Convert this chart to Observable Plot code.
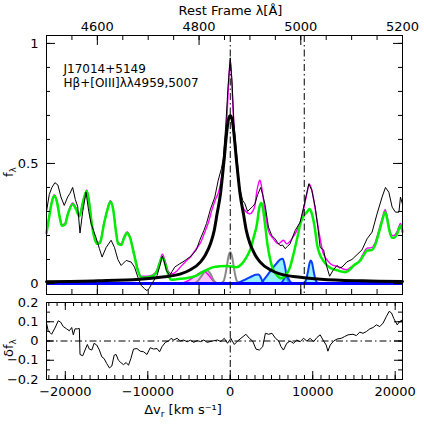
<!DOCTYPE html>
<html><head><meta charset="utf-8">
<script src="https://cdn.jsdelivr.net/npm/d3@7"></script>
<script src="https://cdn.jsdelivr.net/npm/@observablehq/plot@0.6"></script>
<style>
body{margin:0;background:#fff}
#chart{position:relative;width:424px;height:424px;background:#fff}
#chart svg{position:absolute;left:0;display:block}
</style></head><body><div id="chart"></div>
<script>
// ---------- constants / tick values ----------
const C = 299792.458, L0 = 4861.33;
const lambdaTicks = [4500,4550,4600,4650,4700,4750,4800,4850,4900,4950,5000,5050,5100,5150,5200];
const lambdaLabels = [4600,4800,5000,5200];
const lineLambdas = [4861.33, 5006.84];
const lambdaRange = [4500, 5200];
const fTicks = [0,0.1,0.2,0.3,0.4,0.5,0.6,0.7,0.8,0.9,1.0];
const fLabels = [0,0.5,1];
const fDomain = [-0.046, 1.033];
const vLabels = [-20000,-10000,0,10000,20000];
const dTicks = [-0.2,-0.15,-0.1,-0.05,0,0.05,0.1,0.15,0.2];
const dLabels = [-0.2,-0.1,0,0.1,0.2];
const dDomain = [-0.2, 0.2];

// ---------- observed spectrum ----------
const obsV = [-22280,-21950,-21630,-21260,-20900,-20530,-20130,-19720,-19440,-19110,-18790,-18500,-18220,-17890,-17490,-17160,-16880,-16270,-15870,-15540,-15050,-14450,-14040,-13630,-13230,-12620,-12010,-11610,-11200,-10800,-10390,-10100,-9820,-9490,-8880,-8480,-8240,-8000,-7750,-7350,-7050,-6740,-6440,-6130,-5730,-5320,-4910,-4500,-4100,-3700,-3210,-2880,-2400,-1870,-1460,-1060,-850,-540,-270,0,220,440,850,1130,1500,1780,2100,2390,2700,2990,3320,3690,3930,4210,4630,5030,5430,5750,6040,6350,6650,6950,7250,7860,8470,9080,9530,9890,10300,10620,10900,11320,11720,12050,12450,12940,13250,13550,14150,14760,15370,15980,16590,17200,17800,18410,18820,19230,19630,20030,20450,20640,20886];
const obsF = [0.30,0.37,0.40,0.42,0.41,0.36,0.325,0.36,0.375,0.40,0.35,0.32,0.21,0.30,0.38,0.30,0.25,0.19,0.145,0.11,0.15,0.18,0.15,0.10,0.075,0.096,0.089,0.068,0.026,-0.008,-0.022,-0.03,-0.02,0.0,0.033,0.08,0.115,0.09,0.054,0.033,0.05,0.068,0.075,0.082,0.09,0.10,0.11,0.124,0.14,0.18,0.22,0.25,0.31,0.36,0.43,0.48,0.52,0.66,0.82,0.94,0.84,0.66,0.51,0.40,0.346,0.332,0.30,0.31,0.32,0.332,0.37,0.40,0.37,0.33,0.235,0.20,0.186,0.17,0.158,0.16,0.145,0.155,0.165,0.22,0.255,0.346,0.415,0.3875,0.318,0.235,0.15,0.14,0.068,0.03,0.054,0.075,0.065,0.068,0.09,0.10,0.12,0.14,0.186,0.214,0.29,0.36,0.40,0.38,0.318,0.297,0.297,0.36,0.33];

// ---------- total model (magenta) ----------
const modelV = [-22280,-21990,-21690,-21350,-21020,-20650,-20410,-20050,-19680,-19110,-18710,-18300,-17850,-17400,-17120,-16760,-16390,-16070,-15790,-15300,-14870,-14540,-14210,-13840,-13600,-13240,-12870,-12510,-12150,-11660,-11170,-10800,-10190,-9460,-8970,-8600,-8240,-7870,-7510,-7140,-6540,-6050,-5320,-4830,-4220,-3610,-3130,-2640,-2150,-1790,-1420,-1060,-820,-570,-390,-210,0,190,380,580,830,1130,1380,1780,2390,2710,2990,3200,3410,3600,3810,4090,4360,4620,5230,5840,6450,6850,7460,8070,8680,9290,9570,9890,10300,10830,11230,11630,12210,13270,14070,14880,15700,16220,16590,16950,17200,17560,17930,18410,18780,19020,19260,19630,19870,20240,20640,20886];
const modelF = [0.215,0.275,0.335,0.37,0.345,0.275,0.245,0.25,0.295,0.335,0.315,0.285,0.345,0.39,0.345,0.245,0.185,0.17,0.175,0.255,0.315,0.345,0.315,0.215,0.17,0.165,0.195,0.215,0.195,0.125,0.055,0.03,0.03,0.035,0.05,0.085,0.122,0.09,0.05,0.04,0.05,0.068,0.095,0.11,0.14,0.17,0.21,0.255,0.315,0.35,0.38,0.44,0.50,0.60,0.70,0.83,0.93,0.83,0.70,0.58,0.48,0.39,0.33,0.304,0.29,0.30,0.325,0.38,0.415,0.43,0.40,0.332,0.27,0.22,0.186,0.165,0.18,0.165,0.186,0.22,0.276,0.374,0.415,0.39,0.31,0.20,0.13,0.103,0.08,0.068,0.057,0.075,0.096,0.13,0.147,0.148,0.15,0.17,0.21,0.27,0.307,0.28,0.235,0.20,0.20,0.217,0.25,0.225];

// ---------- Fe II template (green) ----------
const feV = [-22280,-21990,-21690,-21350,-21020,-20650,-20410,-20050,-19680,-19110,-18710,-18300,-17850,-17400,-17120,-16760,-16390,-16070,-15790,-15300,-14870,-14540,-14210,-13840,-13600,-13240,-12870,-12510,-12150,-11660,-11170,-10800,-10190,-9460,-8970,-8600,-8240,-7870,-7510,-7140,-6540,-5320,-4100,-3250,-2520,-2030,-1180,-460,750,1360,1970,2460,2820,3250,3490,3740,3930,4170,4500,4780,5020,5630,6110,6480,6850,7250,7580,7860,8190,8470,8800,9290,9620,9900,10300,10510,10870,11120,11600,12130,12940,13430,13950,14400,14970,15770,16220,16590,16950,17200,17560,17930,18410,18780,19020,19260,19630,19870,20240,20640,20886];
const feF = [0.21,0.27,0.33,0.365,0.34,0.27,0.24,0.245,0.29,0.33,0.31,0.28,0.34,0.385,0.34,0.24,0.18,0.165,0.17,0.25,0.31,0.34,0.31,0.21,0.165,0.16,0.19,0.21,0.19,0.12,0.05,0.025,0.025,0.03,0.045,0.08,0.11,0.08,0.035,0.015,0.018,0.022,0.033,0.05,0.062,0.068,0.072,0.073,0.068,0.08,0.11,0.145,0.19,0.25,0.31,0.335,0.32,0.26,0.165,0.11,0.075,0.035,0.022,0.025,0.04,0.068,0.11,0.15,0.20,0.245,0.275,0.297,0.31,0.29,0.22,0.165,0.12,0.103,0.08,0.065,0.055,0.05,0.047,0.055,0.075,0.096,0.12,0.137,0.138,0.14,0.16,0.20,0.26,0.297,0.27,0.225,0.19,0.19,0.207,0.24,0.215];

// ---------- broad H-beta (thick black) ----------
const hbV = [-22280,-16000,-11000,-8500,-6000,-4900,-3600,-3000,-2400,-1950,-1600,-1200,-970,-730,-490,-240,0,240,490,730,970,1200,1600,1950,2400,3000,3600,4900,6000,8500,11000,16000,20886];
const hbF = [0.007,0.011,0.018,0.026,0.04,0.056,0.09,0.12,0.165,0.22,0.29,0.37,0.44,0.52,0.61,0.68,0.70,0.68,0.61,0.52,0.44,0.37,0.29,0.22,0.165,0.12,0.09,0.056,0.04,0.026,0.018,0.011,0.008];

// ---------- narrow H-beta and other gray component ----------
const hbNarrowV = [-1200,-800,-600,-400,-200,0,200,400,600,800,1200];
const hbNarrowF = [0,0.01,0.035,0.075,0.115,0.13,0.115,0.075,0.035,0.01,0];
const grayCompV = [-4500,-4000,-3600,-3200,-2800,-2400,-2000,-1600];
const grayCompF = [0,0.008,0.025,0.045,0.054,0.04,0.012,0];

// ---------- magenta hatched component ----------
const pinkCompV = [-6000,-5300,-4700,-4100,-3600,-3200,-2800,-2400,-2000,-1600];
const pinkCompF = [0,0.008,0.02,0.035,0.046,0.05,0.042,0.025,0.008,0];

// ---------- [OIII] components (blue) ----------
const o4959wingV = [850,1060,1670,2280,2690,3090,3420,3700,3900,4100,4300];
const o4959wingF = [0,0.004,0.014,0.024,0.031,0.036,0.037,0.025,0.009,0.003,0];
const o5007wingV = [3800,4010,4620,5230,5640,6040,6370,6650,6850,7050,7250];
const o5007wingF = [0,0.012,0.04,0.068,0.085,0.099,0.103,0.068,0.026,0.008,0];
const o4959coreV = [6000,6300,6550,6800,7050,7300,7600];
const o4959coreF = [0,0.006,0.02,0.032,0.02,0.006,0];
const o5007coreV = [8900,9200,9450,9620,9770,9920,10090,10340,10640];
const o5007coreF = [0,0.015,0.055,0.085,0.096,0.085,0.055,0.015,0];

// ---------- residuals ----------
const resV = [-22280,-22080,-21660,-21260,-20860,-20570,-20250,-19840,-19520,-19230,-19030,-18830,-18550,-18300,-18220,-17890,-17610,-17330,-17090,-16790,-16510,-16190,-15870,-15580,-15300,-14970,-14650,-14360,-14080,-13840,-13560,-13270,-12950,-12620,-12340,-12050,-11730,-11320,-10920,-10510,-10100,-9700,-9300,-8880,-8570,-8280,-7870,-7470,-7180,-6860,-6450,-6050,-5650,-5230,-4830,-4430,-4020,-3610,-3210,-2800,-2150,-1550,-1140,-730,-330,70,490,890,1290,1900,2310,2710,3120,3530,3930,4260,4660,5060,5480,5880,6160,6450,6850,7250,7670,8070,8470,8880,9290,9690,10100,10500,10900,11320,11630,11840,12120,12540,12940,13460,13870,14280,14880,15290,15700,16100,16500,16920,17320,17720,18130,18530,18940,19270,19550,19840,20240,20570,20886];
const resF = [0.093,0.053,0.035,0.067,0.105,0.098,0.075,0.063,0.053,0.07,0.032,0.063,0.063,0.065,-0.07,-0.077,-0.047,-0.018,-0.042,-0.047,-0.012,-0.021,-0.047,-0.082,-0.091,-0.118,-0.14,-0.13,-0.074,-0.07,-0.1,-0.112,-0.123,-0.112,-0.126,-0.091,-0.042,-0.039,-0.053,-0.056,-0.07,-0.035,-0.042,-0.039,-0.056,-0.03,-0.007,0,0.014,0.005,0.014,0,0.005,-0.004,0.004,-0.007,0.002,-0.003,0.005,-0.007,0,0.005,-0.003,0.014,-0.012,0.014,-0.018,0,0.014,0.035,0.014,0,-0.042,-0.047,-0.03,0.04,0.035,0.04,0.014,0,-0.03,-0.047,-0.012,0,-0.012,0.005,-0.004,0.014,0,0.014,-0.004,0.018,0.032,0,-0.021,-0.053,-0.021,0,0.01,0.014,0.023,0.032,0.035,0.028,0.046,0.04,0.049,0.063,0.07,0.084,0.075,0.093,0.128,0.154,0.146,0.116,0.084,0.102,0.11];

// ---------- helpers ----------
const toV = l => (l / L0 - 1) * C;
const toL = v => L0 * (1 + v / C);
const rows = (vs, fs) => vs.map((v, i) => ({v, f: fs[i]}));
const xDomain = lambdaRange.map(toV);
const FONT = "DejaVu Sans, sans-serif";

const W = 424, mL = 46, mR = 22;
const fw = W - mL - mR;
const H1 = 298, mT1 = 35, mB1 = 4, fh1 = H1 - mT1 - mB1;
const H2 = 126, mT2 = 4, mB2 = 45, fh2 = H2 - mT2 - mB2;

const dash = "7,3,1.5,3";
const smooth = "monotone-x";

function compMarks(vs, fs, fill, stroke, sw) {
  const d = rows(vs, fs);
  const out = [];
  if (fill) out.push(Plot.areaY(d, {x: "v", y: "f", fill, fillOpacity: 0.55, curve: smooth}));
  out.push(Plot.line(d, {x: "v", y: "f", stroke, strokeWidth: sw, curve: smooth}));
  return out;
}

const topPlot = Plot.plot({
  width: W, height: H1, marginTop: mT1, marginBottom: mB1, marginLeft: mL, marginRight: mR,
  style: {fontFamily: FONT, fontSize: "13px", background: "white", color: "black", overflow: "visible"},
  x: {domain: xDomain, label: null},
  y: {domain: fDomain, label: null},
  marks: [
    ...compMarks(pinkCompV, pinkCompF, "#ff9cff", "#ff00ff", 1.5),
    ...compMarks(grayCompV, grayCompF, null, "#8a8a8a", 2),
    ...compMarks(hbNarrowV, hbNarrowF, null, "#8a8a8a", 2),
    ...compMarks(o4959wingV, o4959wingF, "#3fe6f6", "#0a3cff", 2),
    ...compMarks(o5007wingV, o5007wingF, "#3fe6f6", "#0a3cff", 2),
    ...compMarks(o4959coreV, o4959coreF, "#3fe6f6", "#0a3cff", 2),
    ...compMarks(o5007coreV, o5007coreF, "#3fe6f6", "#0a3cff", 2),
    Plot.ruleY([0], {stroke: "#0000ff", strokeWidth: 3}),
    Plot.line(rows(modelV, modelF), {x: "v", y: "f", stroke: "#ff00ff", strokeWidth: 1.4, curve: smooth}),
    Plot.line(rows(feV, feF), {x: "v", y: "f", stroke: "#00ee00", strokeWidth: 2.5, curve: smooth}),
    Plot.line(rows(obsV, obsF), {x: "v", y: "f", stroke: "black", strokeWidth: 1}),
    Plot.line(rows(hbV, hbF), {x: "v", y: "f", stroke: "black", strokeWidth: 3, curve: smooth}),
    Plot.ruleX(lineLambdas, {x: toV, stroke: "black", strokeWidth: 1, strokeDasharray: dash}),
    Plot.frame({stroke: "black", strokeWidth: 1}),
    Plot.tickX(lambdaTicks, {x: toV, insetBottom: fh1 - 5}),
    Plot.tickX(lambdaLabels, {x: toV, insetBottom: fh1 - 10}),
    Plot.tickX(lambdaTicks, {x: toV, insetTop: fh1 - 5}),
    Plot.tickX(lambdaLabels, {x: toV, insetTop: fh1 - 10}),
    Plot.tickY(fTicks, {y: d => d, insetRight: fw - 4}),
    Plot.tickY(fLabels, {y: d => d, insetRight: fw - 9}),
    Plot.tickY(fTicks, {y: d => d, insetLeft: fw - 4}),
    Plot.tickY(fLabels, {y: d => d, insetLeft: fw - 9}),
    Plot.axisX(lambdaLabels.map(toV), {anchor: "top", label: null, tickSize: 0, tickPadding: 5, tickFormat: v => String(Math.round(toL(v)))}),
    Plot.axisY(fLabels, {anchor: "left", label: null, tickSize: 0, tickPadding: 8, tickFormat: d => String(d)}),
    Plot.text(["Rest Frame λ[Å]"], {frameAnchor: "top", dx: 6, dy: -21, lineAnchor: "bottom"}),
    Plot.text(["J17014+5149"], {frameAnchor: "top-left", dx: 17, dy: 37, textAnchor: "start", lineAnchor: "bottom", fontSize: 12}),
    Plot.text(["Hβ+[OIII]λλ4959,5007"], {frameAnchor: "top-left", dx: 17, dy: 51, textAnchor: "start", lineAnchor: "bottom", fontSize: 12})
  ]
});

const botPlot = Plot.plot({
  width: W, height: H2, marginTop: mT2, marginBottom: mB2, marginLeft: mL, marginRight: mR,
  style: {fontFamily: FONT, fontSize: "13px", background: "white", color: "black", overflow: "visible"},
  x: {domain: xDomain, label: null},
  y: {domain: dDomain, label: null},
  marks: [
    Plot.ruleY([0], {stroke: "black", strokeWidth: 1, strokeDasharray: dash}),
    Plot.ruleX([0], {stroke: "black", strokeWidth: 1, strokeDasharray: dash}),
    Plot.line(rows(resV, resF), {x: "v", y: "f", stroke: "black", strokeWidth: 1}),
    Plot.frame({stroke: "black", strokeWidth: 1}),
    Plot.tickX(d3.range(-22000, 21000, 1000), {x: d => d, insetTop: fh2 - 4}),
    Plot.tickX(vLabels, {x: d => d, insetTop: fh2 - 8}),
    Plot.tickX(d3.range(-22000, 21000, 1000), {x: d => d, insetBottom: fh2 - 4}),
    Plot.tickX(vLabels, {x: d => d, insetBottom: fh2 - 8}),
    Plot.tickY(dTicks, {y: d => d, insetRight: fw - 4}),
    Plot.tickY(dLabels, {y: d => d, insetRight: fw - 8}),
    Plot.tickY(dTicks, {y: d => d, insetLeft: fw - 4}),
    Plot.tickY(dLabels, {y: d => d, insetLeft: fw - 8}),
    Plot.axisX(vLabels, {anchor: "bottom", label: null, tickSize: 0, tickPadding: 7, tickFormat: d3.format("d")}),
    Plot.axisY(dLabels, {anchor: "left", label: null, tickSize: 0, tickPadding: 8, tickFormat: d3.format(".1~f")})
  ]
});

const chart = document.getElementById("chart");
topPlot.style.top = "0px";
botPlot.style.top = H1 + "px";
chart.appendChild(topPlot);
chart.appendChild(botPlot);

// axis titles with sub/superscripts
const s1 = d3.select(topPlot);
const fl = s1.append("text").attr("transform", "translate(13,172) rotate(-90)")
  .attr("font-family", FONT).attr("font-size", 13).attr("fill", "black");
fl.append("tspan").text("f");
fl.append("tspan").attr("dy", 3).attr("font-size", 9).text("λ");

const s2 = d3.select(botPlot);
const dl = s2.append("text").attr("transform", "translate(13,50) rotate(-90)")
  .attr("font-family", FONT).attr("font-size", 13).attr("fill", "black");
dl.append("tspan").text("δf");
dl.append("tspan").attr("dy", 3).attr("font-size", 9).text("λ");

const xl = s2.append("text").attr("x", 183).attr("y", 116)
  .attr("font-family", FONT).attr("font-size", 13).attr("fill", "black");
xl.append("tspan").text("Δv");
xl.append("tspan").attr("dy", 3).attr("font-size", 9).text("r");
xl.append("tspan").attr("dy", -3).text(" [km s⁻¹]");
</script></body></html>
